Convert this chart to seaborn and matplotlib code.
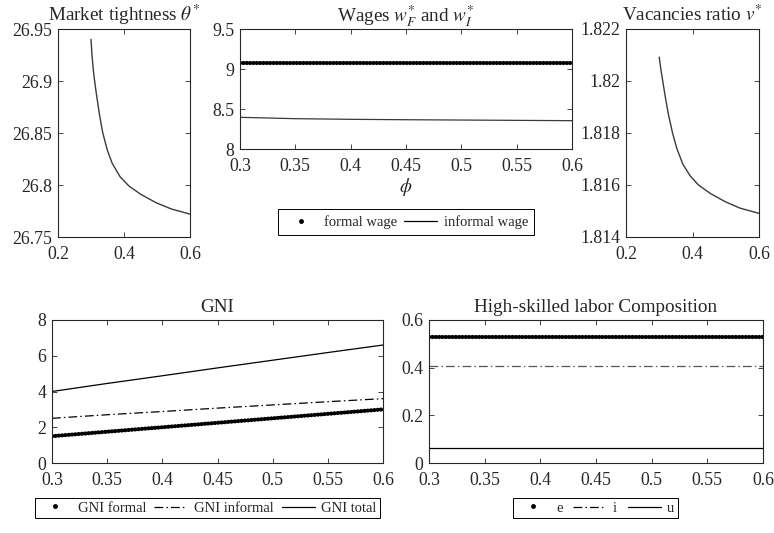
import numpy as np
import matplotlib
matplotlib.use("Agg")
import matplotlib.pyplot as plt
from matplotlib.lines import Line2D
from matplotlib.ticker import FuncFormatter
import seaborn as sns

# ---------------- data ----------------
phi_theta = [0.300, 0.303, 0.306, 0.309, 0.313, 0.318, 0.325, 0.335, 0.349,
             0.364, 0.388, 0.415, 0.451, 0.497, 0.543, 0.600]
theta = [26.940, 26.925, 26.914, 26.905, 26.895, 26.884, 26.869, 26.851, 26.834,
         26.821, 26.808, 26.799, 26.791, 26.783, 26.777, 26.772]

phi_vac = [0.300, 0.303, 0.306, 0.311, 0.318, 0.327, 0.340, 0.353, 0.371,
           0.393, 0.418, 0.453, 0.498, 0.543, 0.600]
vac_ratio = [1.82092, 1.82062, 1.82036, 1.81996, 1.81940, 1.81875, 1.81800, 1.81740,
             1.81680, 1.81635, 1.81600, 1.81568, 1.81536, 1.81511, 1.81491]

phi_lin = [0.30, 0.35, 0.40, 0.45, 0.50, 0.55, 0.60]
formal_wage = [9.08, 9.08, 9.08, 9.08, 9.08, 9.08, 9.08]
informal_wage = [8.396, 8.379, 8.371, 8.366, 8.362, 8.358, 8.354]

gni_formal = [1.50, 1.75, 2.00, 2.25, 2.50, 2.75, 3.00]
gni_informal = [2.50, 2.70, 2.88, 3.07, 3.25, 3.43, 3.60]
gni_total = [4.00, 4.45, 4.88, 5.32, 5.75, 6.18, 6.60]

share_e = [0.528, 0.528, 0.528, 0.528, 0.528, 0.528, 0.528]
share_i = [0.407, 0.407, 0.407, 0.407, 0.407, 0.407, 0.407]
share_u = [0.065, 0.065, 0.065, 0.065, 0.065, 0.065, 0.065]

# ---------------- style ----------------
sns.set_theme(style="ticks")
plt.rcParams["font.family"] = ["Liberation Serif", "DejaVu Serif"]
plt.rcParams["mathtext.fontset"] = "stix"
plt.rcParams["axes.linewidth"] = 0.8
plt.rcParams["axes.edgecolor"] = "#262626"

TICK_FS = 12.8
TITLE_FS = 13.8
LEG_FS = 10.5
fig = plt.figure(figsize=(7.74, 5.33), dpi=100)

def px_axes(x0, y0, x1, y1):
    W, H = 774.0, 533.0
    return fig.add_axes([x0 / W, 1 - y1 / H, (x1 - x0) / W, (y1 - y0) / H])

fmt = FuncFormatter(lambda v, p: f"{v:g}")

def style(ax, xt, yt, xlim, ylim):
    ax.set_xlim(*xlim)
    ax.set_ylim(*ylim)
    ax.set_xticks(xt)
    ax.set_yticks(yt)
    ax.xaxis.set_major_formatter(fmt)
    ax.yaxis.set_major_formatter(fmt)
    ax.tick_params(direction="in", top=True, right=True, length=3.5, width=0.6,
                   labelsize=TICK_FS, colors="#262626")
    ax.tick_params(axis="x", pad=6.5)
    ax.tick_params(axis="y", pad=4.0)
    for s in ax.spines.values():
        s.set_visible(True)
        s.set_color("#262626")
    ax.set_xlabel("")
    ax.set_ylabel("")

dotted = dict(linestyle=(0, (0.05, 0.75)), dash_capstyle="round", linewidth=3.0)
dashdot = (0, (7, 2.5, 1.2, 2.5))
dark = "#3a3a3a"
TPAD = 5.5

# Market tightness
ax1 = px_axes(58, 29, 190, 237)
sns.lineplot(x=phi_theta, y=theta, ax=ax1, color=dark, linewidth=1.0)
style(ax1, [0.2, 0.4, 0.6], [26.75, 26.8, 26.85, 26.9, 26.95], (0.2, 0.6), (26.75, 26.95))
ax1.set_title(r"Market tightness $\theta^{*}$", fontsize=TITLE_FS, pad=TPAD)

# Wages
ax2 = px_axes(240, 29, 572, 149)
sns.lineplot(x=phi_lin, y=formal_wage, ax=ax2, color="black", **dotted)
sns.lineplot(x=phi_lin, y=informal_wage, ax=ax2, color=dark, linewidth=0.9)
style(ax2, [0.3, 0.35, 0.4, 0.45, 0.5, 0.55, 0.6], [8, 8.5, 9, 9.5], (0.3, 0.6), (8, 9.5))
ax2.set_title(r"Wages $w_F^{*}$ and $w_I^{*}$", fontsize=TITLE_FS, pad=TPAD)
ax2.set_xlabel(r"$\phi$", fontsize=TITLE_FS, color="#262626", labelpad=1)

# Vacancies ratio
ax3 = px_axes(626, 29, 759, 237)
sns.lineplot(x=phi_vac, y=vac_ratio, ax=ax3, color=dark, linewidth=1.0)
style(ax3, [0.2, 0.4, 0.6], [1.814, 1.816, 1.818, 1.82, 1.822], (0.2, 0.6), (1.814, 1.822))
ax3.set_title(r"Vacancies ratio $v^{*}$", fontsize=TITLE_FS, pad=TPAD)

# GNI
ax4 = px_axes(52, 320, 383, 463)
sns.lineplot(x=phi_lin, y=gni_formal, ax=ax4, color="black", **dotted)
sns.lineplot(x=phi_lin, y=gni_informal, ax=ax4, color="black", linewidth=0.9, linestyle=dashdot)
sns.lineplot(x=phi_lin, y=gni_total, ax=ax4, color="black", linewidth=0.9)
style(ax4, [0.3, 0.35, 0.4, 0.45, 0.5, 0.55, 0.6], [0, 2, 4, 6, 8], (0.3, 0.6), (0, 8))
ax4.set_title("GNI", fontsize=TITLE_FS, pad=TPAD)

# Composition
ax5 = px_axes(429, 320, 763, 463)
sns.lineplot(x=phi_lin, y=share_e, ax=ax5, color="black", **dotted)
sns.lineplot(x=phi_lin, y=share_i, ax=ax5, color="#555555", linewidth=0.9, linestyle=dashdot)
sns.lineplot(x=phi_lin, y=share_u, ax=ax5, color="black", linewidth=0.9)
style(ax5, [0.3, 0.35, 0.4, 0.45, 0.5, 0.55, 0.6], [0, 0.2, 0.4, 0.6], (0.3, 0.6), (0, 0.6))
ax5.set_title("High-skilled labor Composition", fontsize=TITLE_FS, pad=TPAD)

# ---------------- legends ----------------
def h_dot():
    return Line2D([], [], color="black", marker=".", markersize=5, linestyle="none")

def h_solid():
    return Line2D([], [], color="black", linewidth=0.9)

def h_dd():
    return Line2D([], [], color="black", linewidth=0.9, linestyle=dashdot)

leg_kw = dict(loc="center", frameon=True, fancybox=False, edgecolor="black",
              framealpha=1, fontsize=LEG_FS, handlelength=2.26, handletextpad=0.45)

l1 = fig.legend([h_dot(), h_solid()], ["formal wage", "informal wage"], ncol=2,
                bbox_to_anchor=(406 / 774, 1 - 222 / 533), columnspacing=0.5,
                borderpad=0.45, **leg_kw)
l2 = fig.legend([h_dot(), h_dd(), h_solid()], ["GNI formal", "GNI informal", "GNI total"],
                ncol=3, bbox_to_anchor=(207.5 / 774, 1 - 508 / 533), columnspacing=0.55,
                borderpad=0.25, **leg_kw)
l3 = fig.legend([h_dot(), h_dd(), h_solid()], ["e", "i", "u"], ncol=3,
                bbox_to_anchor=(595.5 / 774, 1 - 508 / 533), columnspacing=0.75,
                borderpad=0.25, **leg_kw)
for l in (l1, l2, l3):
    l.get_frame().set_linewidth(0.7)

fig.savefig("out.png", dpi=100)
